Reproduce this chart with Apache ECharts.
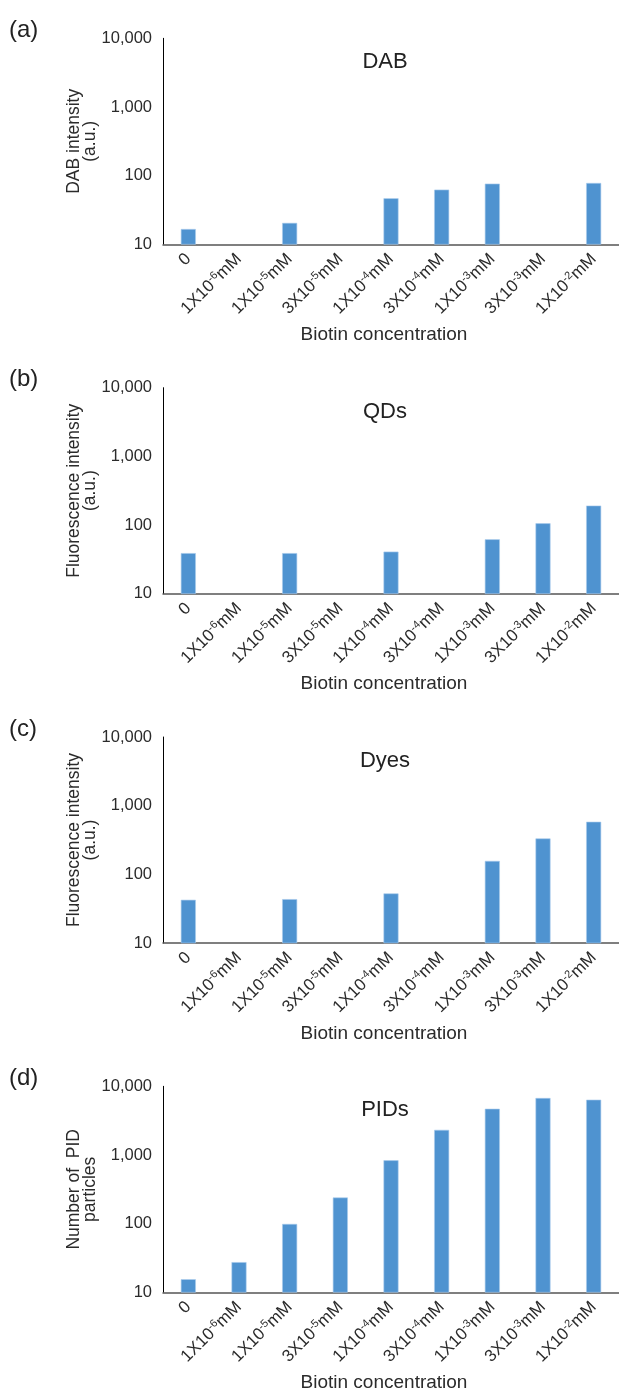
<!DOCTYPE html>
<html>
<head>
<meta charset="utf-8">
<script src="https://cdn.jsdelivr.net/npm/echarts@6/dist/echarts.min.js"></script>
<style>
html,body{margin:0;padding:0;background:#fff;}
#chart{width:619px;height:1394px;}
</style>
</head>
<body>
<div id="chart"></div>
<script>
// ---- data ----
var categories = ['0', '1X10{s|-6}mM', '1X10{s|-5}mM', '3X10{s|-5}mM', '1X10{s|-4}mM',
                  '3X10{s|-4}mM', '1X10{s|-3}mM', '3X10{s|-3}mM', '1X10{s|-2}mM'];
var yTicks = [10, 100, 1000, 10000];
var panelLetters = ['(a)', '(b)', '(c)', '(d)'];
var panelTitles = ['DAB', 'QDs', 'Dyes', 'PIDs'];
var yNames = ['DAB intensity\n(a.u.)', 'Fluorescence intensity\n(a.u.)',
              'Fluorescence intensity\n(a.u.)', 'Number of  PID\nparticles'];
var xName = 'Biotin concentration';
var dabValues  = [16.7, '-', 20.5, '-', 46.8, 62.5, 76.4, '-', 78.2];
var qdValues   = [39, '-', 39, '-', 41, '-', 62, 106, 192];
var dyeValues  = [42.6, '-', 43.5, '-', 52.7, '-', 157, 333, 583];
var pidValues  = [15.5, 27.5, 99, 240, 836, 2320, 4710, 6750, 6380];

var seriesValues = [dabValues, qdValues, dyeValues, pidValues];

// ---- layout ----
var baselines = [244.3, 593.7, 943, 1292.3];
var plotH = 206;
var gridLeft = 163, gridW = 459;
var textColor = '#2b2b2b';
var font = 'Liberation Sans, Arial, sans-serif';

var grids = [], xAxes = [], yAxes = [], series = [], graphics = [];
for (var i = 0; i < 4; i++) {
  grids.push({left: gridLeft, top: baselines[i] - plotH, width: gridW, height: plotH});
  xAxes.push({
    type: 'category', gridIndex: i, data: categories,
    axisLine: {lineStyle: {color: '#555', width: 1.5}},
    axisTick: {show: false},
    axisLabel: {
      rotate: 45, interval: 0, margin: 12, color: textColor, fontSize: 17, fontFamily: font,
      rich: {s: {fontSize: 11, verticalAlign: 'top', color: textColor, fontFamily: font, padding: [0, 0, 8, 0]}}
    },
    name: xName, nameLocation: 'middle', nameGap: 81, nameMoveOverlap: false,
    nameTextStyle: {fontSize: 19, color: textColor, fontFamily: font, padding: [0, 14, 0, 0]}
  });
  yAxes.push({
    type: 'log', logBase: 10, gridIndex: i, min: yTicks[0], max: yTicks[yTicks.length - 1],
    axisLine: {show: true, lineStyle: {color: '#000', width: 1}},
    axisTick: {show: false},
    splitLine: {show: false},
    axisLabel: {color: textColor, fontSize: 16.5, fontFamily: font, margin: 11,
      formatter: function (v) { return Number(v).toLocaleString('en-US'); }},
    name: yNames[i], nameLocation: 'middle', nameRotate: 90, nameGap: 65, nameMoveOverlap: false,
    nameTextStyle: {fontSize: 17.5, color: textColor, fontFamily: font, lineHeight: 16}
  });
  series.push({
    type: 'bar', xAxisIndex: i, yAxisIndex: i, data: seriesValues[i], barWidth: 15,
    itemStyle: {color: '#4f93d0', borderColor: '#a9cbec', borderWidth: 0.6},
    silent: true
  });
  graphics.push({type: 'text', left: 9, top: baselines[i] - 226,
    style: {text: panelLetters[i], font: '24px ' + font, fill: '#222'}});
  graphics.push({type: 'text', x: 385, y: baselines[i] - 182,
    style: {text: panelTitles[i], font: '22px ' + font, fill: '#222', textAlign: 'center', textVerticalAlign: 'middle'}});
}

var chart = echarts.init(document.getElementById('chart'), null, {renderer: 'canvas'});
chart.setOption({
  animation: false,
  backgroundColor: '#fff',
  grid: grids, xAxis: xAxes, yAxis: yAxes, series: series, graphic: graphics
});
</script>
</body>
</html>
